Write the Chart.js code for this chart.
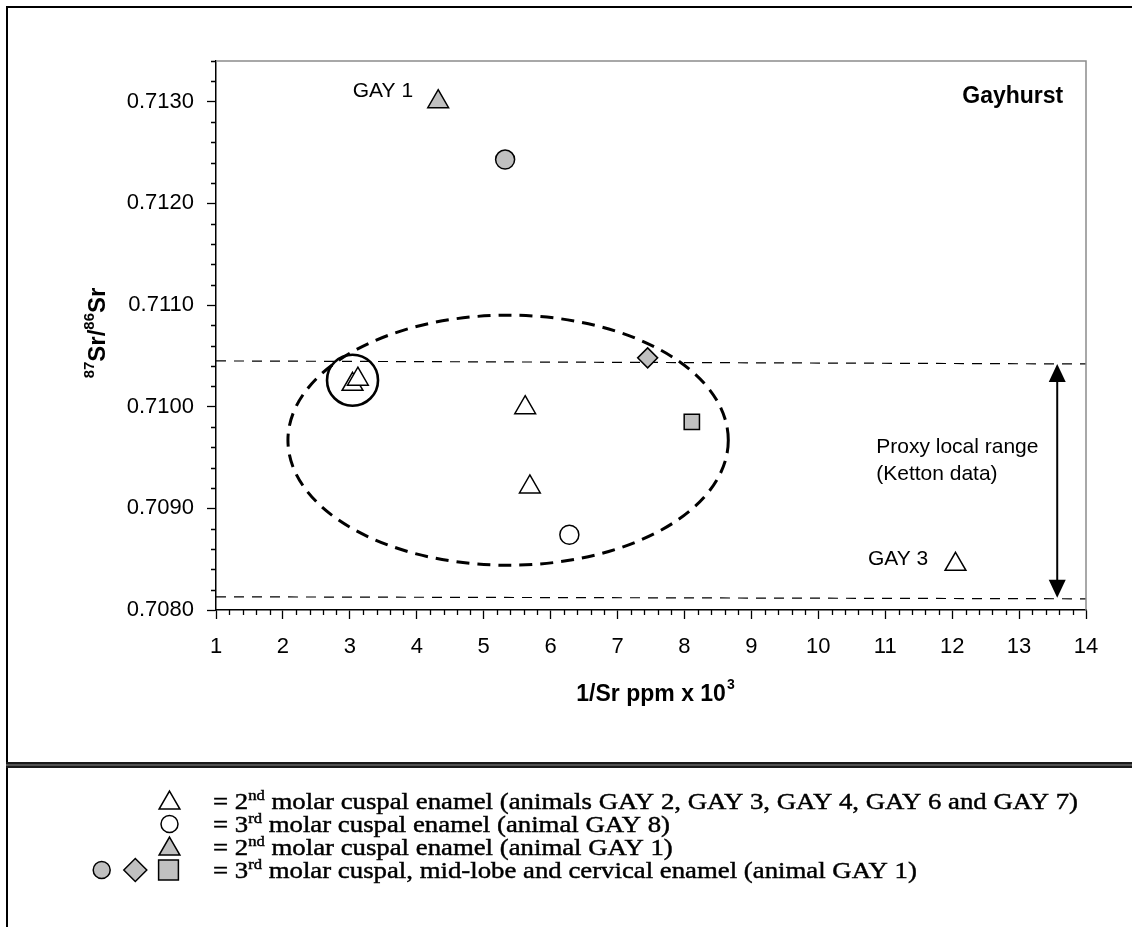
<!DOCTYPE html>
<html>
<head>
<meta charset="utf-8">
<title>Gayhurst Sr isotopes</title>
<script src="https://cdn.jsdelivr.net/npm/chart.js@4"></script>
<style>
  html, body { margin: 0; padding: 0; background: #fff; }
  #wrap { position: relative; width: 1132px; height: 927px; }
</style>
</head>
<body>
<div id="wrap"><canvas id="srChart"></canvas></div>
<script>
'use strict';

// --- data ---------------------------------------------------------------
// 2nd molar cuspal enamel, GAY 2/3/4/6/7 (open triangles)
const openTriX = [3.04, 3.12, 5.62, 5.69, 12.05];
const openTriY = [0.71022, 0.71027, 0.70999, 0.70921, 0.70845];
// 3rd molar cuspal enamel, GAY 8 (open circle)
const openCircleX = [6.28];
const openCircleY = [0.70874];
// 2nd molar cuspal enamel, GAY 1 (grey triangle)
const greyTriX = [4.32];
const greyTriY = [0.71300];
// 3rd molar GAY 1: cuspal (circle), mid-lobe (diamond), cervical (square)
const greyCircleX = [5.32];
const greyCircleY = [0.71243];
const greyDiamondX = [7.45];
const greyDiamondY = [0.71048];
const greySquareX = [8.11];
const greySquareY = [0.70985];

// proxy local range (Ketton data): two dashed bounds and the arrow between them
const rangeTopX = [1, 14];
const rangeTopY = [0.71045, 0.71042];
const rangeBottomX = [1, 14];
const rangeBottomY = [0.70813, 0.70811];
const arrowX = [13.57, 13.57];
const arrowY = [0.71042, 0.70812];

// hand-drawn grouping ellipse and the ring round the two overlapping triangles
const groupEllipse = { cx: 5.365, cy: 0.70967, rx: 3.29, ry: 0.00123 };
const ringCentre = { x: 3.04, y: 0.71026 };

// axes
const xMajorValues = [1, 2, 3, 4, 5, 6, 7, 8, 9, 10, 11, 12, 13, 14];
const xTickLabels = ['1', '2', '3', '4', '5', '6', '7', '8', '9', '10', '11', '12', '13', '14'];
const yMajorValues = [0.708, 0.709, 0.710, 0.711, 0.712, 0.713];
const yTickLabels = ['0.7080', '0.7090', '0.7100', '0.7110', '0.7120', '0.7130'];

// text placed in the plot (data coordinates)
const plotNotes = [
    { text: 'GAY 1', x: 3.945, y: 0.71310, align: 'right', bold: false },
    { text: 'GAY 3', x: 11.643, y: 0.70850, align: 'right', bold: false },
    { text: 'Gayhurst', x: 13.66, y: 0.71305, align: 'right', bold: true },
    { text: 'Proxy local range', x: 10.865, y: 0.70960, align: 'left', bold: false },
    { text: '(Ketton data)', x: 10.865, y: 0.70934, align: 'left', bold: false },
];

// key rows under the chart: [text, superscript, text]
const keyRows = [
    ['= 2', 'nd', ' molar cuspal enamel (animals GAY 2, GAY 3, GAY 4, GAY 6 and GAY 7)'],
    ['= 3', 'rd', ' molar cuspal enamel (animal GAY 8)'],
    ['= 2', 'nd', ' molar cuspal enamel (animal GAY 1)'],
    ['= 3', 'rd', ' molar cuspal, mid-lobe and cervical enamel (animal GAY 1)'],
];

// --- styling ------------------------------------------------------------
const FONT_SANS = '"Liberation Sans", Arial, sans-serif';
const FONT_SERIF = '"Liberation Serif", "Times New Roman", serif';
const GREY_FILL = '#c0c0c0';
const RING_RADIUS = 25.5;

function near(a, b, eps) { return Math.abs(a - b) < eps; }
function isMajorY(v) { return yMajorValues.some(m => near(m, v, 1e-8)); }
function isMajorX(v) { return xMajorValues.some(m => near(m, v, 1e-6)); }

function pts(xs, ys) { return xs.map((x, i) => ({ x, y: ys[i] })); }

function markerSet(label, xs, ys, style, radius, fill) {
    return {
        label,
        data: pts(xs, ys),
        pointStyle: style,
        pointRadius: radius,
        pointHoverRadius: radius,
        pointBackgroundColor: fill,
        pointBorderColor: '#000',
        pointBorderWidth: 1.5,
        showLine: false,
        clip: false,
        order: 0,
    };
}

function boundSet(label, xs, ys) {
    return {
        label,
        data: pts(xs, ys),
        showLine: true,
        borderColor: '#000',
        borderWidth: 1.2,
        borderDash: [10, 8],
        pointRadius: 0,
        fill: false,
        clip: false,
        order: 5,
    };
}

function richWidth(ctx, segs, size) {
    let w = 0;
    segs.forEach((s, i) => {
        ctx.font = (i === 1 ? size * 0.62 : size) + 'px ' + FONT_SERIF;
        w += ctx.measureText(s).width;
    });
    return w;
}

function drawRich(ctx, segs, x, y, size, stretch) {
    ctx.save();
    ctx.translate(x, y);
    ctx.scale(stretch, 1);
    ctx.textAlign = 'left';
    ctx.textBaseline = 'alphabetic';
    ctx.strokeStyle = '#000';
    ctx.lineWidth = 0.45;
    let cx = 0;
    segs.forEach((s, i) => {
        const sup = i === 1;
        ctx.font = (sup ? size * 0.62 : size) + 'px ' + FONT_SERIF;
        const dy = sup ? -size * 0.36 : 0;
        ctx.fillText(s, cx, dy);
        ctx.strokeText(s, cx, dy);
        cx += ctx.measureText(s).width;
    });
    ctx.restore();
}

function drawMarker(ctx, style, radius, fill, x, y) {
    ctx.save();
    ctx.fillStyle = fill;
    ctx.strokeStyle = '#000';
    ctx.lineWidth = 1.5;
    Chart.helpers.drawPoint(ctx, { pointStyle: style, radius, rotation: 0, borderWidth: 1.5 }, x, y);
    ctx.restore();
}

const decor = {
    id: 'decor',
    beforeDraw(chart) {
        const ctx = chart.ctx;
        ctx.save();
        ctx.fillStyle = '#fff';
        ctx.fillRect(0, 0, chart.width, chart.height);
        ctx.restore();
    },
    beforeDatasetsDraw(chart) {
        const { ctx, scales: { x, y } } = chart;
        const cx = x.getPixelForValue(groupEllipse.cx);
        const cy = y.getPixelForValue(groupEllipse.cy);
        const rx = x.getPixelForValue(groupEllipse.cx + groupEllipse.rx) - cx;
        const ry = cy - y.getPixelForValue(groupEllipse.cy + groupEllipse.ry);
        ctx.save();
        ctx.strokeStyle = '#000';
        ctx.lineWidth = 3;
        ctx.setLineDash([13, 8]);
        ctx.beginPath();
        ctx.ellipse(cx, cy, rx, ry, 0, 0, Math.PI * 2);
        ctx.stroke();
        ctx.restore();
    },
    afterDatasetsDraw(chart) {
        const { ctx, scales: { x, y } } = chart;
        ctx.save();
        // ring round the overlapping pair
        ctx.strokeStyle = '#000';
        ctx.lineWidth = 2.6;
        ctx.beginPath();
        ctx.arc(x.getPixelForValue(ringCentre.x), y.getPixelForValue(ringCentre.y), RING_RADIUS, 0, Math.PI * 2);
        ctx.stroke();

        // double-headed arrow spanning the local range
        const ax = x.getPixelForValue(arrowX[0]);
        const top = y.getPixelForValue(arrowY[0]);
        const bot = y.getPixelForValue(arrowY[1]);
        const head = 18, half = 8.5;
        ctx.lineWidth = 2;
        ctx.beginPath();
        ctx.moveTo(ax, top + head - 2);
        ctx.lineTo(ax, bot - head + 2);
        ctx.stroke();
        ctx.fillStyle = '#000';
        ctx.beginPath();
        ctx.moveTo(ax, top);
        ctx.lineTo(ax - half, top + head);
        ctx.lineTo(ax + half, top + head);
        ctx.closePath();
        ctx.fill();
        ctx.beginPath();
        ctx.moveTo(ax, bot);
        ctx.lineTo(ax - half, bot - head);
        ctx.lineTo(ax + half, bot - head);
        ctx.closePath();
        ctx.fill();
        ctx.restore();
    },
    afterDraw(chart) {
        const { ctx, chartArea: area, scales: { x, y } } = chart;
        ctx.save();

        // plot frame: grey top and right edges
        ctx.strokeStyle = '#8c8c8c';
        ctx.lineWidth = 1.5;
        ctx.beginPath();
        ctx.moveTo(area.left, area.top);
        ctx.lineTo(area.right, area.top);
        ctx.lineTo(area.right, area.bottom);
        ctx.stroke();

        // minor tick marks from the scales' own ticks
        ctx.strokeStyle = '#000';
        ctx.lineWidth = 1.3;
        ctx.beginPath();
        y.ticks.forEach(t => {
            if (isMajorY(t.value)) return;
            const py = Math.round(y.getPixelForValue(t.value)) + 0.5;
            ctx.moveTo(area.left - 5, py);
            ctx.lineTo(area.left, py);
        });
        x.ticks.forEach(t => {
            if (isMajorX(t.value)) return;
            const px = Math.round(x.getPixelForValue(t.value)) + 0.5;
            ctx.moveTo(px, area.bottom);
            ctx.lineTo(px, area.bottom + 5);
        });
        ctx.stroke();

        // notes inside the plot
        ctx.fillStyle = '#000';
        ctx.textBaseline = 'middle';
        plotNotes.forEach(n => {
            ctx.font = (n.bold ? 'bold 23px ' : '21px ') + FONT_SANS;
            ctx.textAlign = n.align;
            ctx.fillText(n.text, x.getPixelForValue(n.x), y.getPixelForValue(n.y));
        });

        // x axis title: 1/Sr ppm x 10^3
        ctx.textBaseline = 'alphabetic';
        ctx.textAlign = 'left';
        ctx.font = 'bold 23px ' + FONT_SANS;
        const xMain = '1/Sr ppm x 10';
        const wMain = ctx.measureText(xMain).width;
        ctx.font = 'bold 14px ' + FONT_SANS;
        const wSup = ctx.measureText('3').width;
        const xStart = (area.left + area.right) / 2 + 4 - (wMain + wSup) / 2;
        ctx.font = 'bold 23px ' + FONT_SANS;
        ctx.fillText(xMain, xStart, 701);
        ctx.font = 'bold 14px ' + FONT_SANS;
        ctx.fillText('3', xStart + wMain + 1, 689);

        // y axis title: 87Sr/86Sr, rotated
        const ySegs = [['87', true], ['Sr/', false], ['86', true], ['Sr', false]];
        let total = 0;
        ySegs.forEach(([s, sup]) => {
            ctx.font = (sup ? 'bold 15px ' : 'bold 24px ') + FONT_SANS;
            total += ctx.measureText(s).width;
        });
        ctx.save();
        ctx.translate(105, 333);
        ctx.rotate(-Math.PI / 2);
        let cx = -total / 2;
        ySegs.forEach(([s, sup]) => {
            ctx.font = (sup ? 'bold 15px ' : 'bold 24px ') + FONT_SANS;
            ctx.fillText(s, cx, sup ? -11 : 0);
            cx += ctx.measureText(s).width;
        });
        ctx.restore();

        // outer frame and divider above the key
        ctx.fillStyle = '#000';
        ctx.fillRect(6, 6, chart.width - 6, 2);
        ctx.fillRect(6, 6, 2, chart.height - 6);
        ctx.fillStyle = '#1a1a1a';
        ctx.fillRect(6, 762, chart.width - 6, 6);
        ctx.fillStyle = '#8a8a8a';
        ctx.fillRect(6, 764.5, chart.width - 6, 1);

        // key
        const keyX = 169.5, textX = 213, rowY = [801, 824, 847, 870];
        const keySize = 24;
        const stretch = (1078 - textX) / richWidth(ctx, keyRows[0], keySize);
        drawMarker(ctx, 'triangle', 12, '#fff', keyX, rowY[0] + 2);
        drawMarker(ctx, 'circle', 8.5, '#fff', keyX, rowY[1]);
        drawMarker(ctx, 'triangle', 12, GREY_FILL, keyX, rowY[2] + 2);
        drawMarker(ctx, 'circle', 8.5, GREY_FILL, 101.7, rowY[3]);
        drawMarker(ctx, 'rectRot', 11.5, GREY_FILL, 135.3, rowY[3]);
        drawMarker(ctx, 'rect', 14, GREY_FILL, keyX - 1, rowY[3]);
        ctx.fillStyle = '#000';
        keyRows.forEach((segs, i) => drawRich(ctx, segs, textX, rowY[i] + 8, keySize, stretch));

        ctx.restore();
    }
};

Chart.defaults.font.family = FONT_SANS;
Chart.defaults.color = '#000';

const chart = new Chart(document.getElementById('srChart'), {
    type: 'scatter',
    data: {
        datasets: [
            markerSet('2nd molar cuspal enamel (GAY 2, 3, 4, 6, 7)', openTriX, openTriY, 'triangle', 12, '#fff'),
            markerSet('3rd molar cuspal enamel (GAY 8)', openCircleX, openCircleY, 'circle', 9.5, '#fff'),
            markerSet('2nd molar cuspal enamel (GAY 1)', greyTriX, greyTriY, 'triangle', 12, GREY_FILL),
            markerSet('3rd molar cuspal (GAY 1)', greyCircleX, greyCircleY, 'circle', 9.5, GREY_FILL),
            markerSet('3rd molar mid-lobe (GAY 1)', greyDiamondX, greyDiamondY, 'rectRot', 10, GREY_FILL),
            markerSet('3rd molar cervical (GAY 1)', greySquareX, greySquareY, 'rect', 10.8, GREY_FILL),
            boundSet('Local range upper', rangeTopX, rangeTopY),
            boundSet('Local range lower', rangeBottomX, rangeBottomY),
        ]
    },
    options: {
        responsive: true,
        maintainAspectRatio: false,
        animation: false,
        events: [],
        layout: { padding: { left: 0, right: 46, top: 61, bottom: 0 } },
        plugins: {
            legend: { display: false },
            tooltip: { enabled: false },
        },
        scales: {
            x: {
                type: 'linear',
                min: 1,
                max: 14,
                border: { display: true, color: '#000', width: 1.5 },
                grid: {
                    drawOnChartArea: false,
                    drawTicks: true,
                    tickLength: 9,
                    tickWidth: 1.3,
                    tickColor: c => (c.tick && isMajorX(c.tick.value)) ? '#000' : 'rgba(0,0,0,0)',
                },
                ticks: {
                    stepSize: 0.2,
                    autoSkip: false,
                    maxRotation: 0,
                    padding: 15,
                    font: { size: 22 },
                    color: '#000',
                    callback: v => {
                        const i = xMajorValues.findIndex(m => near(m, v, 1e-6));
                        return i >= 0 ? xTickLabels[i] : '';
                    }
                },
                afterFit: s => { s.height = 317; }
            },
            y: {
                type: 'linear',
                min: 0.708,
                max: 0.7134,
                border: { display: true, color: '#000', width: 1.5 },
                grid: {
                    drawOnChartArea: false,
                    drawTicks: true,
                    tickLength: 9,
                    tickWidth: 1.3,
                    tickColor: c => (c.tick && isMajorY(c.tick.value)) ? '#000' : 'rgba(0,0,0,0)',
                },
                ticks: {
                    stepSize: 0.0002,
                    autoSkip: false,
                    padding: 13,
                    font: { size: 22 },
                    color: '#000',
                    callback: v => {
                        const i = yMajorValues.findIndex(m => near(m, v, 1e-8));
                        return i >= 0 ? yTickLabels[i] : '';
                    }
                },
                afterFit: s => { s.width = 216; }
            }
        }
    },
    plugins: [decor]
});
</script>
</body>
</html>
